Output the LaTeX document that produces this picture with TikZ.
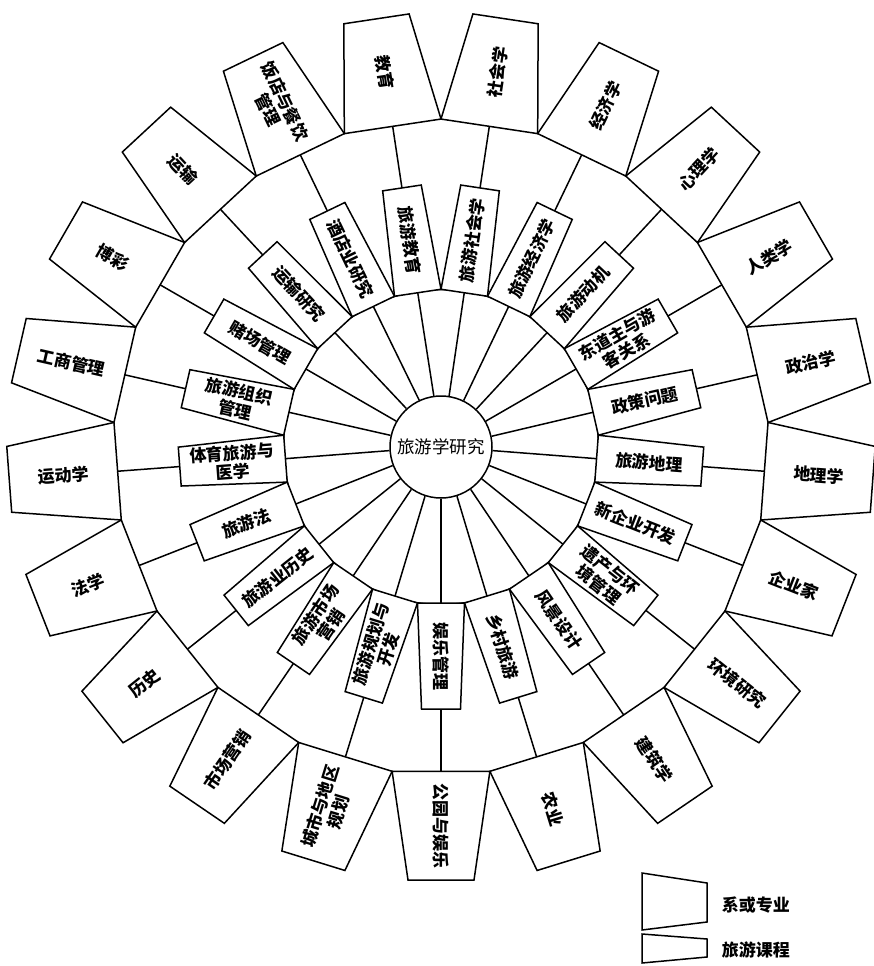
\documentclass[tikz,border=0pt]{standalone}
\usepackage{fontspec}
\newfontfamily\cjk{Noto Sans CJK SC}
\begin{document}
\begin{tikzpicture}[x=1pt,y=1pt,line width=1.5pt,line join=miter,
  lab/.style={font=\cjk\bfseries\fontsize{17}{19}\selectfont,align=center,inner sep=0pt},
  ctr/.style={circle,draw,fill=white,minimum size=102pt,inner sep=0pt,font=\cjk\fontsize{17.5}{19}\selectfont},
  boxshape/.style={draw,fill=white}]
\useasboundingbox (0,0) rectangle (873,-966);
\fill[white] (0,0) rectangle (873,-966);
\begin{scope}[shift={(441,-447)}]
\draw (0,0) circle (157.5);
\node[ctr] (c) at (0,0) {旅游学研究};
\foreach \k/\outer/\course in {
0/{公园与娱乐}/{娱乐管理},
1/{农业}/{乡村旅游},
2/{建筑学}/{风景设计},
3/{环境研究}/{遗产与环\\境管理},
4/{企业家}/{新企业开发},
5/{地理学}/{旅游地理},
6/{政治学}/{政策问题},
7/{人类学}/{东道主与游\\客关系},
8/{心理学}/{旅游动机},
9/{经济学}/{旅游经济学},
10/{社会学}/{旅游社会学},
11/{教育}/{旅游教育},
12/{饭店与餐饮\\管理}/{酒店业研究},
13/{运输}/{运输研究},
14/{博彩}/{赌场管理},
15/{工商管理}/{旅游组织\\管理},
16/{运动学}/{体育旅游与\\医学},
17/{法学}/{旅游法},
18/{历史}/{旅游业历史},
19/{市场营销}/{旅游市场\\营销},
20/{城市与地区\\规划}/{旅游规划与\\开发}} {
  \pgfmathsetmacro\ang{-90+\k*360/21}
  \pgfmathsetmacro\rot{\k<11 ? \ang : \ang-180}
  \coordinate (ci\k) at (\ang:156);
  \coordinate (co\k) at (\ang:262);
  \coordinate (pm\k) at (\ang:324.3);
  \draw (c.\ang) -- (ci\k);
  \draw (co\k) -- (pm\k);
  \begin{scope}[rotate=\ang]
    \draw[boxshape] (156,-23.5) -- (262,-19.5) -- (262,19.5) -- (156,23.5) -- cycle;
    \draw[boxshape] (324.3,-48.9) -- (433,-33) -- (433,33) -- (324.3,48.9) -- cycle;
  \end{scope}
  \node[lab,rotate=\rot] (course\k) at (\ang:209) {\course};
  \node[lab,rotate=\rot] (dept\k) at (\ang:379) {\outer};
}
\end{scope}
% legend
\draw (642,-873) -- (707,-883) -- (707,-922) -- (642,-930) -- cycle;
\node[lab,anchor=west] (leg1) at (721,-905) {系或专业};
\draw (642,-934) -- (707,-939) -- (707,-957) -- (642,-963) -- cycle;
\node[lab,anchor=west] (leg2) at (721,-950) {旅游课程};
\end{tikzpicture}
\end{document}
